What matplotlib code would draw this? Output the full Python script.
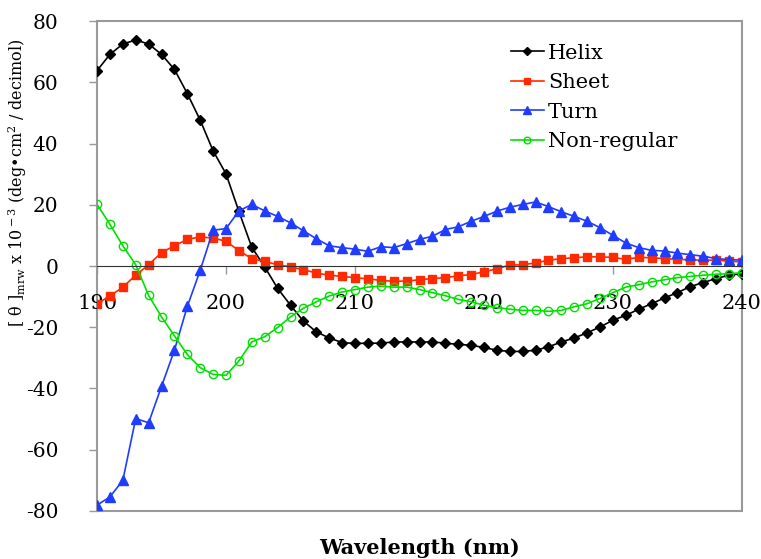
# CD spectra of secondary structure references (Helix / Sheet / Turn / Non-regular)

import matplotlib
matplotlib.use('Agg')
import matplotlib.pyplot as plt
import matplotlib.patches as mpatches
import numpy as np

plt.rcParams['font.family'] = ['DejaVu Serif']
plt.rcParams['mathtext.fontset'] = 'dejavuserif'
plt.rcParams['axes.unicode_minus'] = False

wavelength = np.arange(190, 241)

helix = [63.8, 69.1, 72.5, 73.8, 72.5, 69.1, 64.2, 56.3, 47.6, 37.6,
         30.1, 17.8, 6.1, -0.3, -7.3, -12.8, -18.0, -21.5, -23.5, -25.0,
         -25.3, -25.2, -25.2, -24.8, -24.8, -24.8, -24.8, -25.2, -25.6, -25.9,
         -26.6, -27.5, -27.9, -27.9, -27.5, -26.4, -24.8, -23.5, -21.8, -19.9,
         -17.7, -16.1, -14.1, -12.3, -10.4, -8.7, -6.7, -5.4, -4.1, -3.0,
         -2.5]

sheet = [-12.3, -9.8, -6.9, -3.0, 0.4, 4.4, 6.6, 8.7, 9.5, 9.1,
         8.1, 5.0, 2.4, 1.5, 0.4, -0.3, -1.2, -2.3, -3.0, -3.4,
         -3.8, -4.2, -4.7, -5.0, -4.9, -4.5, -4.1, -3.8, -3.2, -2.8,
         -1.9, -0.9, 0.3, 0.4, 1.0, 1.9, 2.4, 2.7, 3.0, 3.0,
         2.8, 2.2, 2.8, 2.7, 2.4, 2.2, 2.0, 1.9, 1.9, 1.6,
         1.3]

turn = [-78.1, -75.4, -70.0, -49.8, -51.2, -39.3, -27.5, -13.2, -1.4, 11.7,
        12.2, 18.0, 20.1, 18.0, 16.2, 14.1, 11.5, 8.9, 6.6, 6.0,
        5.5, 4.8, 6.3, 6.0, 7.3, 8.7, 9.7, 11.9, 12.8, 14.6,
        16.2, 17.9, 19.2, 20.1, 20.9, 19.4, 17.7, 16.2, 14.6, 12.5,
        10.0, 7.5, 6.0, 5.1, 4.9, 4.2, 3.7, 3.2, 2.4, 2.1,
        1.9]

nonregular = [20.1, 13.6, 6.6, 0.4, -9.6, -16.6, -22.8, -28.9, -33.2, -35.4,
              -35.7, -31.0, -24.8, -23.1, -20.1, -16.6, -13.8, -11.7, -9.8, -8.5,
              -7.7, -6.9, -6.6, -6.9, -6.9, -7.7, -8.7, -9.7, -10.9, -11.7,
              -12.8, -13.6, -14.1, -14.5, -14.5, -14.8, -14.5, -13.3, -12.3, -10.6,
              -8.7, -6.9, -6.1, -5.2, -4.5, -3.8, -3.4, -3.0, -2.7, -2.5,
              -2.2]

fig = plt.figure(figsize=(7.61, 5.59), dpi=100)
ax = fig.add_axes([0.1275, 0.0859, 0.8475, 0.8765])

ax.plot(wavelength, helix, color='black', marker='D', markersize=5.5, lw=1.2, label='Helix')
ax.plot(wavelength, sheet, color='#ff2a00', marker='s', markersize=6, lw=1.2, label='Sheet')
ax.plot(wavelength, turn, color='#1f3cff', marker='^', markersize=7, lw=1.2, label='Turn')
ax.plot(wavelength, nonregular, color='#00e000', marker='o', markersize=6,
        markerfacecolor='none', markeredgewidth=1.0, lw=1.2, label='Non-regular')

ax.set_xlim(190, 240)
ax.set_ylim(-80, 80)
ax.set_xticks([190, 200, 210, 220, 230, 240])
ax.set_yticks(np.arange(-80, 81, 20))

# x axis drawn through zero, gray frame around the plot area
ax.spines['bottom'].set_position(('data', 0))
ax.spines['bottom'].set_color('#333333')
for s in ['top', 'right', 'left']:
    ax.spines[s].set_visible(False)
ax.add_patch(mpatches.Rectangle((0, 0), 1, 1, transform=ax.transAxes, fill=False,
                                edgecolor='#999999', lw=1.5, zorder=0, clip_on=False))

ax.tick_params(axis='x', direction='out', length=6, width=1, color='#999999',
               labelsize=15, pad=14)
ax.tick_params(axis='y', direction='out', length=6, width=1, color='#999999',
               labelsize=14.5, pad=22)

ax.set_xlabel('Wavelength (nm)', fontsize=15, fontweight='bold')
ax.xaxis.set_label_coords(0.5, -0.055)
ax.set_ylabel('[ θ ]$_{\\rm mrw}$ x 10$^{\\rm -3}$ (deg•cm$^{\\rm 2}$ / decimol)', fontsize=11.5)
ax.yaxis.set_label_coords(-0.105, 0.67)

ax.legend(loc='upper left', bbox_to_anchor=(0.625, 0.975), frameon=False, fontsize=15,
          handlelength=1.6, handletextpad=0.2, labelspacing=0.5, borderpad=0,
          markerscale=0.8)

fig.savefig('out.png', dpi=100)
